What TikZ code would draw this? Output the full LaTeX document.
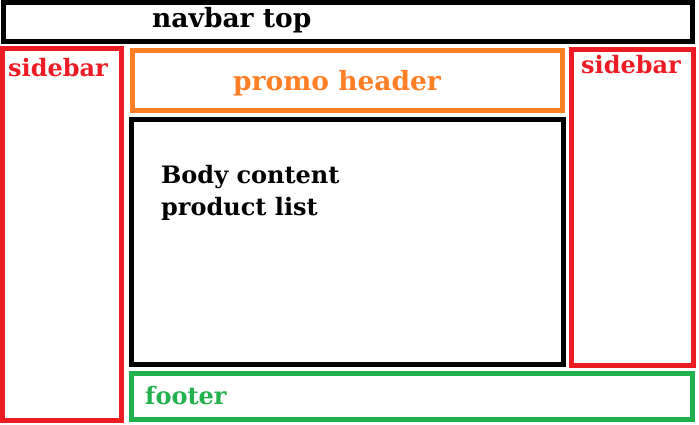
\documentclass[tikz,border=0pt]{standalone}
\usepackage{fontspec}
\setmainfont{DejaVu Serif}
\usepackage{tikz}
\usetikzlibrary{positioning}
\definecolor{layoutred}{HTML}{ED1C24}
\definecolor{layoutorange}{HTML}{FF7F27}
\definecolor{layoutgreen}{HTML}{22B14C}
\definecolor{layoutblack}{HTML}{000000}
\begin{document}
\begin{tikzpicture}[x=1pt, y=-1pt,
    region/.style={draw, line width=5pt, anchor=north west, inner sep=0pt, outer sep=0pt},
    lbl/.style={anchor=base west, inner sep=0pt, font=\fontsize{26.5}{32}\selectfont\bfseries},
    lblsmall/.style={lbl, font=\fontsize{24}{30}\selectfont\bfseries}
  ]
    \useasboundingbox (0,0) rectangle (699,424);
    \node[region, draw=layoutblack, minimum width=689pt, minimum height=39pt] (navbar) at (3.5,2.5) {};
    \node[region, draw=layoutred, minimum width=119pt, minimum height=372pt] (sideleft) at (2.5,48.5) {};
    \node[region, draw=layoutorange, minimum width=430pt, minimum height=60pt] (promo) at (132.5,50.5) {};
    \node[region, draw=layoutblack, minimum width=432pt, minimum height=245pt] (body) at (131.5,119.5) {};
    \node[region, draw=layoutred, minimum width=122pt, minimum height=316pt] (sideright) at (571.5,49.5) {};
    \node[region, draw=layoutgreen, minimum width=561pt, minimum height=46pt] (footer) at (131.5,373.5) {};
    \node[lbl, text=layoutblack] (navbartxt) at (152,27) {navbar top};
    \node[lblsmall, text=layoutred] (sidelefttxt) at (8,76) {sidebar};
    \node[lbl, text=layoutorange] (promotxt) at (233,90) {promo header};
    \node[lblsmall, text=layoutred] (siderighttxt) at (581,73) {sidebar};
    \node[lblsmall, text=layoutblack] (bodytxt) at (161,183) {Body content};
    \node[lblsmall, text=layoutblack] (listtxt) at (161,215) {product list};
    \node[lblsmall, text=layoutgreen] (footertxt) at (145,404) {footer};
  \end{tikzpicture}
\end{document}
